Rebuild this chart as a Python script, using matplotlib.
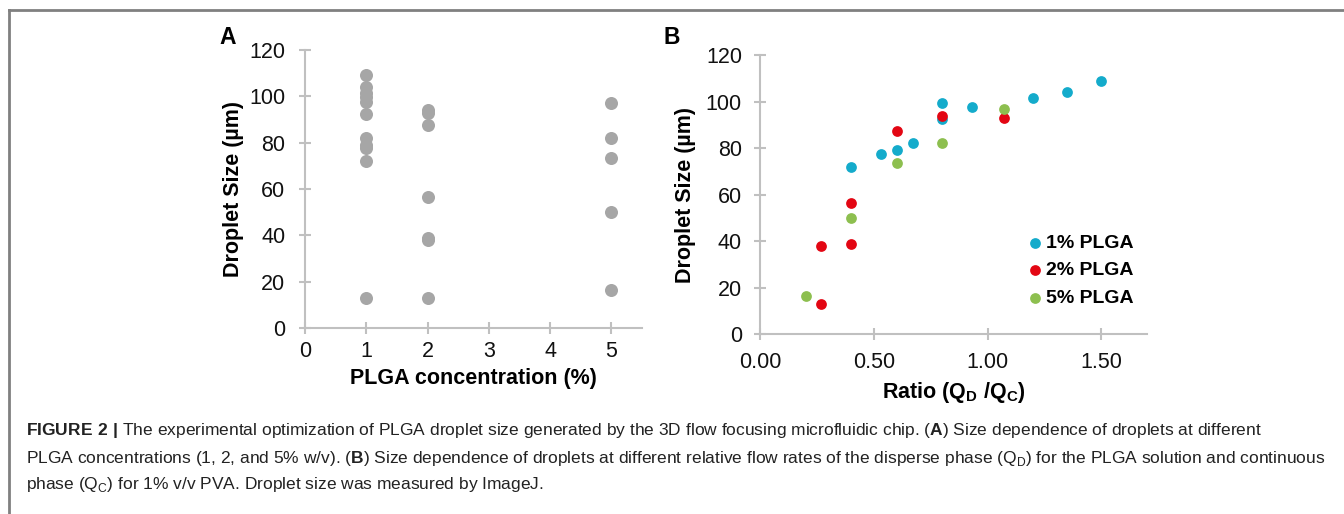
import matplotlib
matplotlib.use("Agg")
import matplotlib.pyplot as plt
from matplotlib.lines import Line2D

plt.rcParams['font.family'] = ['Liberation Sans', 'DejaVu Sans']
plt.rcParams['mathtext.fontset'] = 'custom'
plt.rcParams['mathtext.rm'] = 'Liberation Sans'
plt.rcParams['mathtext.bf'] = 'Liberation Sans:bold'

# Panel A: droplet size at each PLGA concentration (%)
conc_ticks = [0, 1, 2, 3, 4, 5]
size_a_1 = [109, 104, 101.5, 99.5, 97.5, 92.5, 82, 79, 77.5, 72, 13]
size_a_2 = [94, 93, 87.5, 56.5, 39, 38, 13]
size_a_5 = [97, 82, 73.5, 50, 16.5]

# Panel B: droplet size vs flow rate ratio QD/QC
ratio_1 = [0.40, 0.53, 0.60, 0.67, 0.80, 0.80, 0.93, 1.20, 1.35, 1.50]
size_1 = [72, 77.5, 79, 82, 99.5, 92.5, 97.5, 101.5, 104, 109]
ratio_2 = [0.27, 0.27, 0.40, 0.40, 0.60, 0.80, 1.07]
size_2 = [38, 13, 56.5, 39, 87.5, 94, 93]
ratio_5 = [0.20, 0.40, 0.60, 0.80, 1.07]
size_5 = [16.5, 50, 73.5, 82, 97]
ratio_ticks = [0.0, 0.5, 1.0, 1.5]
size_ticks = [0, 20, 40, 60, 80, 100, 120]

gray = '#a6a6a6'
axis_gray = '#c0c0c0'
cyan = '#14abcb'
red = '#e30613'
green = '#8dbf4f'

W, H = 1344, 514
fig = plt.figure(figsize=(W / 100, H / 100), dpi=100)


def px(x0, y0, x1, y1):
    # pixel box (top-left origin) -> figure fraction rect
    return [x0 / W, 1 - y1 / H, (x1 - x0) / W, (y1 - y0) / H]


def style(ax, xpad, ypad):
    for s in ['top', 'right']:
        ax.spines[s].set_visible(False)
    for s in ['left', 'bottom']:
        ax.spines[s].set_color(axis_gray)
        ax.spines[s].set_linewidth(1.5)
    ax.tick_params(axis='both', direction='inout', length=8, width=1.5,
                   color=axis_gray, labelsize=15.5, labelcolor='#111111')
    ax.tick_params(axis='x', pad=xpad)
    ax.tick_params(axis='y', pad=ypad)


# ---- panel A
axA = fig.add_axes(px(305, 50, 642, 328))
axA.scatter([1] * len(size_a_1), size_a_1, s=88, color=gray, linewidths=0, clip_on=False)
axA.scatter([2] * len(size_a_2), size_a_2, s=88, color=gray, linewidths=0, clip_on=False)
axA.scatter([5] * len(size_a_5), size_a_5, s=88, color=gray, linewidths=0, clip_on=False)
axA.set_xlim(0, 5.5)
axA.set_ylim(0, 120)
axA.set_xticks(conc_ticks)
axA.set_yticks(size_ticks)
style(axA, 5.5, 10.2)
axA.set_xlabel('PLGA concentration (%)', fontsize=15.5, fontweight='bold', labelpad=4)
axA.set_ylabel('Droplet Size (µm)', fontsize=15.5, fontweight='bold', labelpad=4)

# ---- panel B
axB = fig.add_axes(px(760, 55, 1147, 334.3))
axB.scatter(ratio_1, size_1, s=60, color=cyan, linewidths=0, label='1% PLGA', clip_on=False)
axB.scatter(ratio_2, size_2, s=60, color=red, linewidths=0, label='2% PLGA', clip_on=False)
axB.scatter(ratio_5, size_5, s=60, color=green, linewidths=0, label='5% PLGA', clip_on=False)
axB.set_xlim(0, 1.7)
axB.set_ylim(0, 120)
axB.set_xticks(ratio_ticks)
axB.set_xticklabels([f'{t:.2f}' for t in ratio_ticks])
axB.set_yticks(size_ticks)
style(axB, 9, 9)
axB.set_xlabel(r'Ratio (Q$_\mathregular{D}$ /Q$_\mathregular{C}$)', fontsize=15.5,
               fontweight='bold', labelpad=4.5)
axB.set_ylabel('Droplet Size (µm)', fontsize=15.5, fontweight='bold', labelpad=7)
axB.legend(loc='upper left', bbox_to_anchor=((1029 - 760) / 387, (334.3 - 234) / 279.3),
           frameon=False, prop={'weight': 'bold', 'size': 14},
           handlelength=0.6, handletextpad=0.25, borderpad=0, borderaxespad=0,
           labelspacing=0.52, scatterpoints=1)

# panel letters
fig.text(227.5 / W, 1 - 37.5 / H, 'A', fontsize=16.5, fontweight='bold', ha='center', va='center')
fig.text(672 / W, 1 - 37.5 / H, 'B', fontsize=16.5, fontweight='bold', ha='center', va='center')

# frame lines (top and left)
fig.add_artist(Line2D([9 / W, 1], [1 - 10 / H, 1 - 10 / H], color='#808080', lw=2,
                      transform=fig.transFigure))
fig.add_artist(Line2D([9 / W, 9 / W], [0, 1 - 10 / H], color='#808080', lw=2,
                      transform=fig.transFigure))

# caption
caption = [
    r'$\mathbf{FIGURE\ 2\ |}$ The experimental optimization of PLGA droplet size generated by the 3D flow '
    r'focusing microfluidic chip. ($\mathbf{A}$) Size dependence of droplets at different',
    r'PLGA concentrations (1, 2, and 5% w/v). ($\mathbf{B}$) Size dependence of droplets at different '
    r'relative flow rates of the disperse phase (Q$_\mathregular{D}$) for the PLGA solution and continuous',
    r'phase (Q$_\mathregular{C}$) for 1% v/v PVA. Droplet size was measured by ImageJ.',
]
for i, line in enumerate(caption):
    fig.text(26 / W, 1 - (431 + 27 * i) / H, line, fontsize=12.5,
             color='#222222', ha='left', va='center')

fig.savefig('out.png', dpi=100)
